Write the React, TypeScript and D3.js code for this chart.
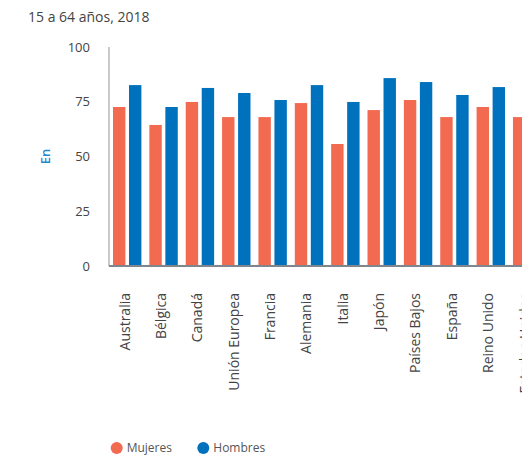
import React from "react";
import * as d3 from "d3";

const categories = [
  "Australia",
  "Bélgica",
  "Canadá",
  "Unión Europea",
  "Francia",
  "Alemania",
  "Italia",
  "Japón",
  "Países Bajos",
  "España",
  "Reino Unido",
  "Estados Unidos",
];
const mujeres = [72.6, 64.4, 74.9, 68.0, 68.0, 74.4, 55.7, 71.2, 75.8, 68.0, 72.6, 68.0];
const hombres = [82.6, 72.6, 81.3, 79.0, 75.8, 82.6, 74.9, 85.8, 84.0, 78.1, 81.7, 78.9];
const seriesNames = ["Mujeres", "Hombres"];
const seriesColors = ["#f26a50", "#0071bc"];
const yTicks = [0, 25, 50, 75, 100];
const title = "15 a 64 años, 2018";
const yLabel = "En";

const W = 522;
const H = 461;
const FONT = "'Open Sans', 'Noto Sans', sans-serif";

export default function App() {
  const left = 109;
  const step = 36.36;
  const x0 = d3
    .scaleBand<string>()
    .domain(categories)
    .range([left, left + step * categories.length])
    .paddingInner(0)
    .paddingOuter(0);
  const x1 = d3
    .scaleBand<string>()
    .domain(seriesNames)
    .range([4, 32.4])
    .paddingInner(0.225)
    .paddingOuter(0);
  const y = d3.scaleLinear().domain([0, 100]).range([266, 47]);
  const series = [mujeres, hombres];

  return (
    <svg
      width={W}
      height={H}
      style={{ position: "absolute", left: 0, top: 0, background: "#fff" }}
      fontFamily={FONT}
    >
      <text x={28} y={22} fontSize={14} fill="#444">
        {title}
      </text>
      <text
        transform={`translate(50,${(y(0) + y(100)) / 2}) rotate(-90)`}
        textAnchor="middle"
        fontSize={13}
        fontWeight={600}
        fill="#1f8ad0"
      >
        {yLabel}
      </text>
      {yTicks.map((t) => (
        <text
          key={t}
          x={90}
          y={y(t)}
          dy="0.35em"
          textAnchor="end"
          fontSize={13}
          fill="#444"
        >
          {t}
        </text>
      ))}
      {categories.map((c, i) => (
        <g key={c} transform={`translate(${x0(c)},0)`}>
          {series.map((s, j) => (
            <rect
              key={j}
              x={x1(seriesNames[j])}
              y={y(s[i])}
              width={x1.bandwidth()}
              height={y(0) - y(s[i])}
              fill={seriesColors[j]}
            />
          ))}
        </g>
      ))}
      <line x1={left} x2={left} y1={y(100)} y2={y(0)} stroke="#b5b8bc" strokeWidth={1.5} />
      <line x1={left} x2={W} y1={y(0)} y2={y(0)} stroke="#80868d" strokeWidth={2} />
      {categories.map((c) => (
        <text
          key={c}
          transform={`translate(${(x0(c) as number) + x0.bandwidth() / 2 - 2.5},293) rotate(-90)`}
          dy="0.35em"
          textAnchor="end"
          fontSize={14}
          fill="#444"
        >
          {c}
        </text>
      ))}
      {seriesNames.map((n, i) => {
        const lx = i === 0 ? 116.7 : 203.3;
        return (
          <g key={n}>
            <circle cx={lx} cy={448} r={6} fill={seriesColors[i]} />
            <text x={lx + 10} y={448} dy="0.35em" fontSize={12} fill="#555">
              {n}
            </text>
          </g>
        );
      })}
    </svg>
  );
}
